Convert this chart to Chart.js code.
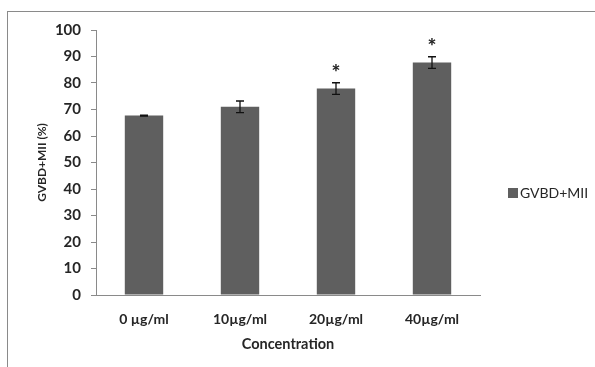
<!DOCTYPE html>
<html>
<head>
<meta charset="utf-8">
<script src="https://cdn.jsdelivr.net/npm/chart.js@4/dist/chart.umd.min.js"></script>
<style>
  html, body { margin: 0; padding: 0; background: #fff; }
  #wrap { position: relative; width: 595px; height: 367px; }
  #frame { position: absolute; left: 7px; top: 11px; width: 600px; height: 400px;
           border-left: 1px solid #8a8a8a; border-top: 1px solid #8a8a8a; }
  canvas { position: absolute; left: 0; top: 0; }
</style>
</head>
<body>
<div id="wrap">
  <div id="frame"></div>
  <canvas id="chart" width="595" height="367"></canvas>
</div>
<script>
// valeurs
const categories = ['0 µg/ml', '10µg/ml', '20µg/ml', '40µg/ml'];
const values = [67.7, 71.0, 77.9, 87.7];
const errors = [0.2, 2.2, 2.2, 2.2];
const stars = ['', '', '*', '*'];
const seriesName = 'GVBD+MII';
const yTicks = [0, 10, 20, 30, 40, 50, 60, 70, 80, 90, 100];

const barColor = '#5f5f5f';
const textColor = '#262626';
const axisColor = '#8a8a8a';
const fontFam = 'Lato, "Open Sans", sans-serif';

// barres d'erreur + étoiles + légende
const extras = {
  id: 'extras',
  afterDatasetsDraw(chart) {
    const ctx = chart.ctx;
    const x = chart.scales.x, y = chart.scales.y;
    ctx.save();
    ctx.strokeStyle = '#111';
    ctx.lineWidth = 1.3;
    values.forEach((v, i) => {
      const cx = x.getPixelForValue(i);
      const top = y.getPixelForValue(v + errors[i]);
      const bot = y.getPixelForValue(v - errors[i]);
      ctx.beginPath();
      ctx.moveTo(cx, top); ctx.lineTo(cx, bot);
      ctx.moveTo(cx - 4, top); ctx.lineTo(cx + 4, top);
      ctx.moveTo(cx - 4, bot); ctx.lineTo(cx + 4, bot);
      ctx.stroke();
      if (stars[i]) {
        ctx.fillStyle = '#222';
        ctx.font = '900 21px ' + fontFam;
        ctx.textAlign = 'center';
        ctx.textBaseline = 'middle';
        ctx.fillText(stars[i], cx, top - 10);
      }
    });
    // légende
    ctx.fillStyle = barColor;
    ctx.fillRect(508, 188, 10, 10);
    ctx.fillStyle = textColor;
    ctx.font = '14px ' + fontFam;
    ctx.textAlign = 'left';
    ctx.textBaseline = 'middle';
    ctx.fillText(seriesName, 520, 193);
    ctx.restore();
  }
};

new Chart(document.getElementById('chart'), {
  type: 'bar',
  data: {
    labels: categories,
    datasets: [{
      label: seriesName,
      data: values,
      backgroundColor: barColor,
      barPercentage: 0.4,
      categoryPercentage: 1.0
    }]
  },
  options: {
    responsive: false,
    animation: false,
    layout: { padding: { left: 35, right: 115, top: 30, bottom: 10 } },
    plugins: { legend: { display: false }, tooltip: { enabled: false } },
    scales: {
      x: {
        grid: { display: false },
        border: { display: true, color: axisColor, width: 1 },
        ticks: { color: textColor, font: { family: fontFam, size: 14, weight: 'bold' }, padding: 8, maxRotation: 0 },
        title: { display: true, text: 'Concentration', color: textColor,
                 font: { family: fontFam, size: 14.5, weight: 'bold' }, padding: { top: 0, bottom: 4 } },
        afterFit(s) { s.height = 62; }
      },
      y: {
        min: 0, max: 100,
        afterBuildTicks(s) { s.ticks = yTicks.map(v => ({ value: v })); },
        grid: { drawOnChartArea: false, drawTicks: true, tickLength: 5, color: axisColor },
        border: { display: true, color: axisColor, width: 1 },
        ticks: { color: textColor, font: { family: fontFam, size: 15, weight: 'bold' }, padding: 10 },
        title: { display: true, text: 'GVBD+MII (%)', color: textColor,
                 font: { family: fontFam, size: 12, weight: 'bold' }, padding: { top: 0, bottom: 0 } },
        afterFit(s) { s.width = 61; }
      }
    }
  },
  plugins: [extras]
});
</script>
</body>
</html>
